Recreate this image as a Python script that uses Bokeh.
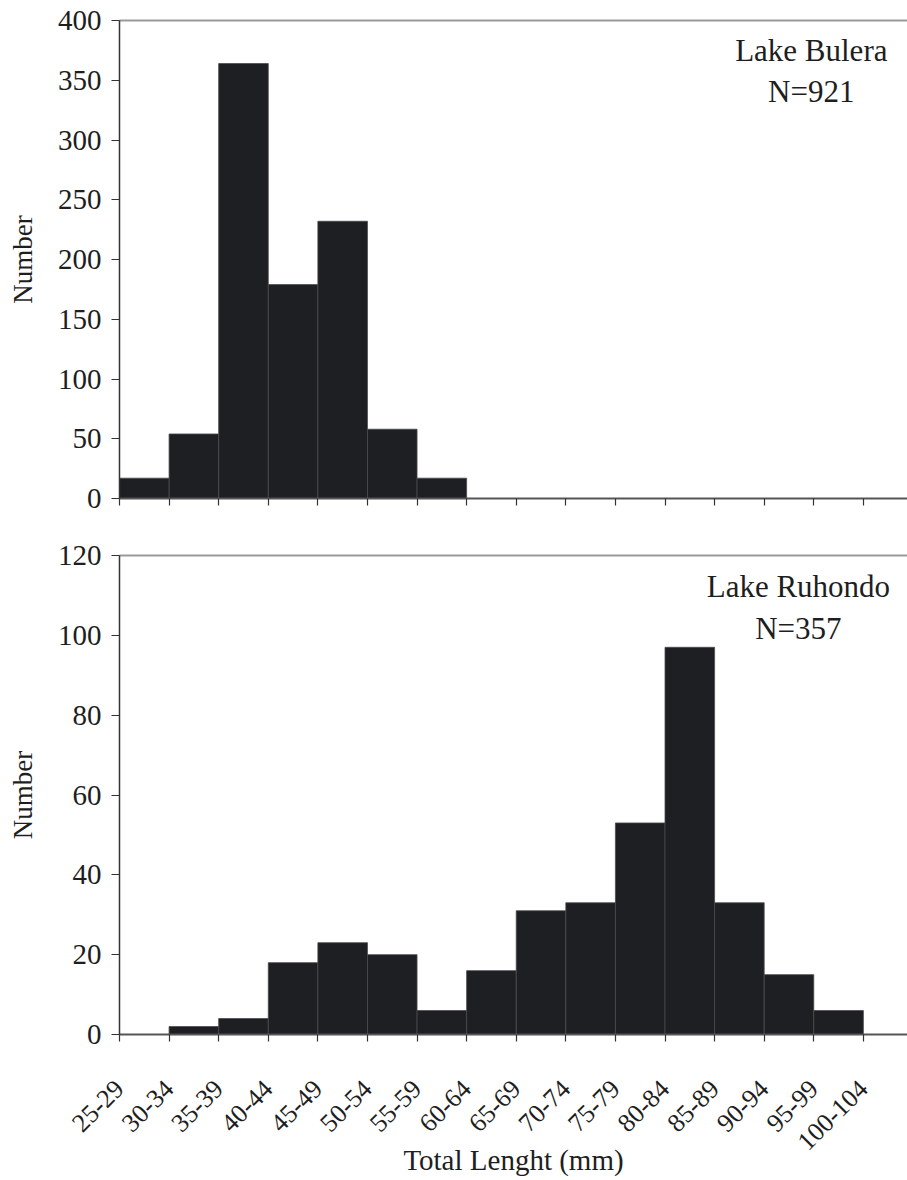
import math
from bokeh.plotting import figure
from bokeh.layouts import column
from bokeh.models import FixedTicker, LinearAxis, Label, Range1d, ColumnDataSource
from bokeh.embed import file_html
from bokeh.resources import INLINE

# ---- data ----
categories = ["25-29", "30-34", "35-39", "40-44", "45-49", "50-54", "55-59", "60-64",
              "65-69", "70-74", "75-79", "80-84", "85-89", "90-94", "95-99", "100-104"]
bulera_counts = [17, 54, 364, 179, 232, 58, 17, 0, 0, 0, 0, 0, 0, 0, 0, 0]
ruhondo_counts = [0, 2, 4, 18, 23, 20, 6, 16, 31, 33, 53, 97, 33, 15, 6, 0]
bulera_ticks = [0, 50, 100, 150, 200, 250, 300, 350, 400]
ruhondo_ticks = [0, 20, 40, 60, 80, 100, 120]

FONT = "Liberation Serif"
TXT = "#1e1e1e"
BAR = "#1e1f22"
W = 907
X_END = 15.89


def make_panel(counts, yticks, ymax, height, min_bottom, title1, title2,
               lab_x, lab_y1, lab_y2, show_labels):
    p = figure(width=W, height=height, output_backend="svg", toolbar_location=None,
               x_range=Range1d(0, X_END), y_range=Range1d(0, ymax),
               min_border_left=119, min_border_right=0, min_border_top=20,
               min_border_bottom=min_bottom)
    p.outline_line_color = None
    p.background_fill_color = "white"
    p.border_fill_color = "white"
    p.xgrid.visible = False
    p.ygrid.visible = False

    src = ColumnDataSource(dict(
        left=list(range(len(categories))),
        right=[i + 1 for i in range(len(categories))],
        top=counts,
        bottom=[0] * len(categories),
    ))
    p.quad(left="left", right="right", top="top", bottom="bottom", source=src,
           fill_color=BAR, line_color="#4a4a4c", line_width=0.8)

    # y axis
    ya = p.yaxis[0]
    ya.ticker = FixedTicker(ticks=yticks)
    ya.axis_label = "Number"
    ya.axis_label_text_font = FONT
    ya.axis_label_text_font_size = "27px"
    ya.axis_label_text_font_style = "normal"
    ya.axis_label_text_color = TXT
    ya.axis_label_standoff = 17
    ya.major_label_text_font = FONT
    ya.major_label_text_font_size = "29px"
    ya.major_label_text_color = TXT
    ya.major_label_standoff = 10
    ya.axis_line_color = "#333333"
    ya.axis_line_width = 1.5
    ya.major_tick_line_color = "#333333"
    ya.major_tick_line_width = 1.2
    ya.major_tick_out = 8
    ya.major_tick_in = 0
    ya.minor_tick_line_color = None

    # x axis
    xa = p.xaxis[0]
    xa.ticker = FixedTicker(ticks=list(range(len(categories))))
    if show_labels:
        xa.major_label_overrides = {i: c for i, c in enumerate(categories)}
        xa.major_label_orientation = math.pi / 4
        xa.major_label_text_font = FONT
        xa.major_label_text_font_size = "26px"
        xa.major_label_text_color = TXT
        xa.major_label_standoff = 43
        xa.axis_label = "Total Lenght (mm)"
        xa.axis_label_text_font = FONT
        xa.axis_label_text_font_size = "29px"
        xa.axis_label_text_font_style = "normal"
        xa.axis_label_text_color = TXT
        xa.axis_label_standoff = -17
    else:
        xa.major_label_overrides = {i: "" for i in range(len(categories))}
        xa.major_label_text_font_size = "1px"
    xa.axis_line_color = "#555555"
    xa.axis_line_width = 2
    xa.major_tick_line_color = "#333333"
    xa.major_tick_line_width = 1.2
    xa.major_tick_out = 7
    xa.major_tick_in = 0
    xa.minor_tick_line_color = None

    # top border line
    top = LinearAxis(ticker=FixedTicker(ticks=[]), axis_line_color="#9a9a9a",
                     axis_line_width=2, major_tick_line_color=None,
                     minor_tick_line_color=None, major_label_text_font_size="1px")
    p.add_layout(top, "above")

    for txt, yy in ((title1, lab_y1), (title2, lab_y2)):
        p.add_layout(Label(x=lab_x, y=yy, text=txt, text_align="center",
                           text_baseline="alphabetic", text_font=FONT,
                           text_font_size="31px", text_color=TXT))
    return p


p1 = make_panel(bulera_counts, bulera_ticks, 400, 535, 37,
                "Lake Bulera", "N=921", 13.95, 375, 341, False)
p2 = make_panel(ruhondo_counts, ruhondo_ticks, 120, 645, 146,
                "Lake Ruhondo", "N=357", 13.69, 112.3, 101.8, True)

layout = column(p1, p2, spacing=0)
open("out.html", "w").write(file_html(layout, INLINE))
